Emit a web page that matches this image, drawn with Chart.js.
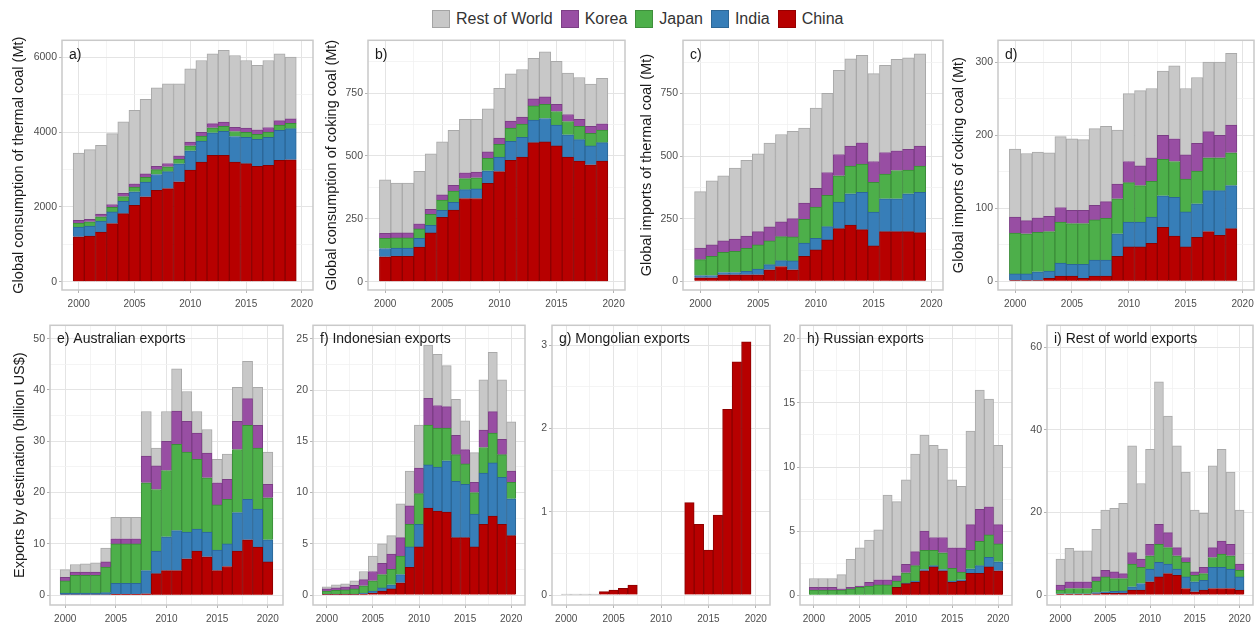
<!DOCTYPE html>
<html>
<head>
<meta charset="utf-8">
<script src="https://cdn.jsdelivr.net/npm/chart.js@4.4.1/dist/chart.umd.min.js"></script>
<style>
  html, body { margin: 0; padding: 0; background: #fff; width: 1256px; height: 622px; overflow: hidden;
    font-family: 'Liberation Sans', Arial, sans-serif; }
  canvas { position: absolute; }
  #legend { position: absolute; left: 432px; top: 10px; display: flex; align-items: center;
    font-size: 16px; color: #333; white-space: nowrap; }
  .key { display: flex; align-items: center; margin-right: 8px; }
  .sw { width: 18px; height: 18px; margin-right: 6px; box-sizing: border-box; border: 1px solid rgba(0,0,0,0.18); }
</style>
</head>
<body>
<div id="legend"></div>
<script>
// ---------- categories ----------
const yearsTop = [2000, 2001, 2002, 2003, 2004, 2005, 2006, 2007, 2008, 2009,
                  2010, 2011, 2012, 2013, 2014, 2015, 2016, 2017, 2018, 2019];
const yearsBottom = [2000, 2001, 2002, 2003, 2004, 2005, 2006, 2007, 2008, 2009, 2010,
                     2011, 2012, 2013, 2014, 2015, 2016, 2017, 2018, 2019, 2020];
const countries = ['China', 'India', 'Japan', 'Korea', 'Rest of World'];
const legendOrder = ['Rest of World', 'Korea', 'Japan', 'India', 'China'];

// ---------- tick labels ----------
const yearTicks = [2000, 2005, 2010, 2015, 2020];
const ticksA = [0, 2000, 4000, 6000];
const ticksB = [0, 250, 500, 750];
const ticksC = [0, 250, 500, 750];
const ticksD = [0, 100, 200, 300];
const ticksE = [0, 10, 20, 30, 40, 50];
const ticksF = [0, 5, 10, 15, 20, 25];
const ticksG = [0, 1, 2, 3];
const ticksH = [0, 5, 10, 15, 20];
const ticksI = [0, 20, 40, 60];

// ---------- a) consumption of thermal coal (Mt) ----------
const aChina = [1200, 1220, 1330, 1555, 1820, 2045, 2270, 2445, 2490, 2670, 2980, 3200, 3380, 3380, 3200, 3155, 3085, 3110, 3245, 3260];
const aIndia = [260, 270, 290, 310, 330, 360, 390, 420, 450, 480, 520, 560, 600, 640, 680, 700, 720, 750, 800, 830];
const aJapan = [110, 110, 115, 120, 125, 125, 130, 130, 130, 120, 130, 130, 135, 135, 135, 135, 135, 140, 140, 140];
const aKorea = [70, 70, 75, 80, 85, 85, 90, 90, 90, 95, 100, 105, 110, 110, 110, 115, 120, 120, 120, 120];
const aRest  = [1800, 1860, 1835, 1890, 1910, 1965, 1990, 2095, 2130, 1925, 1960, 1915, 1865, 1915, 1920, 1805, 1720, 1790, 1785, 1650];

// ---------- b) consumption of coking coal (Mt) ----------
const bChina = [99, 101, 101, 138, 194, 256, 285, 331, 331, 391, 438, 483, 496, 553, 556, 540, 496, 480, 465, 480];
const bIndia = [33, 33, 33, 34, 30, 28, 31, 35, 38, 50, 58, 75, 78, 90, 93, 83, 88, 85, 75, 73];
const bJapan = [40, 40, 40, 38, 44, 41, 44, 44, 44, 50, 50, 53, 53, 56, 56, 54, 53, 53, 50, 50];
const bKorea = [20, 20, 20, 20, 20, 20, 23, 23, 23, 25, 25, 28, 28, 28, 30, 28, 28, 28, 28, 25];
const bRest  = [213, 198, 198, 209, 221, 211, 219, 213, 210, 171, 198, 188, 189, 161, 179, 171, 165, 166, 168, 181];

// ---------- c) imports of thermal coal (Mt) ----------
const cChina = [14, 14, 26, 26, 26, 26, 46, 59, 46, 99, 125, 165, 210, 224, 206, 141, 198, 198, 198, 194];
const cIndia = [9, 9, 9, 9, 14, 23, 20, 23, 35, 53, 46, 53, 106, 125, 149, 135, 131, 131, 151, 161];
const cJapan = [63, 76, 80, 84, 91, 96, 95, 96, 96, 95, 125, 125, 105, 111, 113, 119, 99, 113, 95, 105];
const cKorea = [46, 46, 46, 49, 49, 53, 56, 59, 73, 65, 75, 91, 85, 80, 85, 83, 86, 79, 83, 80];
const cRest  = [226, 256, 260, 284, 303, 311, 335, 349, 349, 300, 320, 316, 336, 348, 349, 351, 348, 365, 365, 368];

// ---------- d) imports of coking coal (Mt) ----------
const dChina = [1, 1, 1, 4, 7, 7, 4, 7, 7, 34, 47, 47, 52, 74, 62, 47, 60, 68, 63, 72];
const dIndia = [9, 9, 12, 10, 18, 16, 19, 22, 22, 31, 34, 34, 36, 43, 53, 48, 46, 56, 61, 59];
const dJapan = [56, 55, 54, 54, 56, 56, 56, 55, 57, 48, 54, 50, 49, 50, 49, 45, 45, 45, 45, 45];
const dKorea = [22, 18, 20, 21, 20, 18, 18, 20, 23, 20, 29, 27, 32, 33, 31, 33, 38, 36, 31, 38];
const dRest  = [93, 92, 90, 87, 97, 98, 97, 105, 103, 74, 93, 103, 95, 88, 100, 91, 90, 95, 100, 98];

// ---------- e) Australian exports (billion US$) ----------
const eChina = [0.1, 0.1, 0.1, 0.1, 0.1, 0.2, 0.2, 0.2, 0.3, 4.2, 4.8, 4.8, 7.1, 8.6, 7.5, 4.8, 5.6, 8.6, 10.8, 9.4, 6.5];
const eIndia = [0.3, 0.3, 0.3, 0.3, 0.4, 2.1, 2.1, 2.1, 4.5, 4.4, 6.6, 7.8, 5.2, 4.3, 4.8, 4.0, 4.4, 7.5, 7.9, 7.4, 4.3];
const eJapan = [2.4, 3.5, 3.5, 3.5, 5.0, 7.7, 7.7, 7.7, 17.1, 12.0, 12.9, 16.8, 15.6, 13.6, 10.6, 8.8, 8.7, 12.3, 14.4, 11.9, 8.2];
const eKorea = [0.7, 0.6, 0.6, 0.6, 1.0, 1.0, 1.0, 1.0, 5.2, 4.6, 5.7, 6.5, 6.0, 5.1, 4.8, 4.3, 3.9, 5.5, 5.2, 4.4, 2.6];
const eRest  = [1.5, 1.5, 1.6, 1.8, 2.7, 4.2, 4.2, 4.2, 8.7, 3.5, 5.8, 8.2, 5.8, 4.2, 4.6, 4.6, 4.9, 6.6, 7.3, 7.4, 6.3];

// ---------- f) Indonesian exports (billion US$) ----------
const fChina = [0.05, 0.05, 0.05, 0.05, 0.1, 0.2, 0.4, 0.6, 1.2, 2.7, 4.7, 8.5, 8.2, 8.1, 5.6, 5.6, 4.7, 6.9, 7.7, 6.9, 5.8];
const fIndia = [0.05, 0.05, 0.05, 0.05, 0.1, 0.2, 0.3, 0.4, 0.8, 2.0, 2.2, 4.2, 4.3, 5.0, 5.5, 5.2, 3.2, 5.0, 5.2, 4.6, 3.6];
const fJapan = [0.3, 0.35, 0.4, 0.5, 0.7, 1.0, 1.3, 1.5, 1.8, 2.2, 3.0, 3.9, 3.8, 3.2, 2.6, 2.0, 2.1, 2.5, 2.9, 2.2, 1.6];
const fKorea = [0.2, 0.25, 0.3, 0.35, 0.6, 0.9, 1.1, 1.5, 1.8, 1.8, 2.5, 2.6, 2.2, 2.1, 1.9, 1.4, 1.0, 1.7, 2.1, 1.5, 1.1];
const fRest  = [0.2, 0.3, 0.3, 0.45, 0.8, 1.5, 1.9, 1.8, 3.3, 3.4, 4.2, 5.2, 5.0, 4.0, 3.5, 2.8, 2.9, 4.9, 5.8, 5.8, 4.8];

// ---------- g) Mongolian exports (billion US$) ----------
const gChina = [null, null, null, null, 0.04, 0.06, 0.08, 0.12, null, null, null, null, null, 1.11, 0.85, 0.54, 0.96, 2.23, 2.80, 3.04, null];
const gIndia = [null, null, null, null, null, null, null, null, null, null, null, null, null, null, null, null, null, null, null, null, null];
const gJapan = [null, null, null, null, null, null, null, null, null, null, null, null, null, null, null, null, null, null, null, null, null];
const gKorea = [null, null, null, null, null, null, null, null, null, null, null, null, null, null, null, null, null, null, null, null, null];
const gRest  = [0.01, 0.01, 0.01, 0.01, null, null, null, null, null, null, null, null, null, null, null, null, null, null, null, null, null];

// ---------- h) Russian exports (billion US$) ----------
const hChina = [0, 0, 0, 0, 0, 0, 0, 0, 0, 0.6, 0.9, 1.0, 1.9, 2.2, 1.9, 1.0, 1.1, 1.7, 1.7, 2.2, 1.9];
const hIndia = [0, 0, 0, 0, 0, 0, 0, 0, 0, 0, 0.05, 0.1, 0.1, 0.1, 0.1, 0.1, 0.1, 0.35, 0.6, 0.75, 0.7];
const hJapan = [0.4, 0.4, 0.4, 0.4, 0.5, 0.6, 0.7, 0.8, 0.8, 0.5, 0.8, 1.2, 1.5, 1.2, 1.3, 1.0, 0.6, 1.45, 1.9, 1.75, 1.4];
const hKorea = [0.2, 0.2, 0.2, 0.1, 0.1, 0.1, 0.3, 0.4, 0.4, 0.4, 0.65, 1.1, 1.5, 1.0, 1.2, 1.6, 1.9, 2.0, 2.5, 2.2, 1.5];
const hRest  = [0.7, 0.7, 0.7, 1.1, 2.2, 3.0, 3.3, 3.9, 6.6, 5.8, 6.6, 7.6, 7.5, 7.2, 6.9, 5.3, 4.8, 7.3, 9.3, 8.4, 6.2];

// ---------- i) Rest of world exports (billion US$) ----------
const iChina = [0.2, 0.2, 0.2, 0.2, 0.3, 0.4, 0.4, 0.5, 1.2, 1.2, 3.2, 4.4, 5.2, 4.8, 1.6, 0.8, 1.2, 1.6, 1.6, 1.6, 1.2];
const iIndia = [0.1, 0.1, 0.1, 0.1, 0.3, 0.4, 0.5, 0.5, 0.8, 1.6, 3.1, 3.5, 2.3, 1.5, 2.8, 2.4, 2.4, 5.1, 5.1, 4.7, 3.2];
const iJapan = [0.9, 1.3, 1.3, 1.3, 2.8, 3.6, 3.1, 3.0, 5.5, 3.9, 3.2, 4.4, 4.0, 3.2, 3.5, 1.6, 1.6, 2.4, 3.2, 3.2, 1.6];
const iKorea = [1.2, 1.6, 1.6, 1.6, 1.0, 1.6, 1.6, 1.2, 2.8, 2.0, 2.8, 4.8, 3.6, 2.0, 1.2, 0.8, 1.5, 2.4, 3.2, 2.8, 1.5];
const iRest  = [6.3, 8.1, 7.5, 7.5, 11.5, 14.6, 15.4, 17.0, 25.8, 18.3, 23.0, 34.5, 28.2, 24.6, 20.7, 15.0, 13.1, 19.8, 22.2, 17.5, 13.1];

// ---------- styling ----------
const fills = { 'China': '#b70000', 'India': '#377eb8', 'Japan': '#4daf4a', 'Korea': '#984ea3', 'Rest of World': '#c8c8c8' };
const edges = { 'China': '#8c0000', 'India': '#2b6797', 'Japan': '#3b8d39', 'Korea': '#7b3d85', 'Rest of World': '#a9a9a9' };
const FONT = "'Liberation Sans', Arial, sans-serif";

// Legend
const legend = document.getElementById('legend');
legendOrder.forEach(name => {
  const k = document.createElement('div'); k.className = 'key';
  const sw = document.createElement('div'); sw.className = 'sw'; sw.style.background = fills[name];
  const tx = document.createElement('span'); tx.textContent = name;
  k.appendChild(sw); k.appendChild(tx); legend.appendChild(k);
});

// Frame and corner label of each panel
const panelDecor = {
  id: 'panelDecor',
  afterDatasetsDraw(chart, args, o) {
    const { ctx, chartArea: a } = chart;
    ctx.save();
    ctx.strokeStyle = '#c9c9c9';
    ctx.lineWidth = 1.5;
    ctx.strokeRect(a.left, a.top, a.right - a.left, a.bottom - a.top);
    ctx.fillStyle = '#1a1a1a';
    ctx.font = '14px ' + FONT;
    ctx.textAlign = 'left';
    ctx.textBaseline = 'middle';
    ctx.fillText(o.text, a.left + 7, a.top + o.dy);
    ctx.restore();
  }
};

// Major ticks carry labels; minor ones sit half-way between them
function tickList(majors, lo, hi) {
  const step = majors[1] - majors[0];
  const out = [];
  for (let k = 0; k < majors.length; k++) {
    out.push({ value: majors[k], major: true });
    const m = majors[k] + step / 2;
    if (m > lo && m < hi) out.push({ value: m, major: false });
  }
  const first = majors[0] - step / 2;
  if (first > lo) out.unshift({ value: first, major: false });
  return out;
}

const panels = [
  { label: 'a)', dy: 15, title: 'Global consumption of thermal coal (Mt)', titleX: 19, years: yearsTop,
    series: [aChina, aIndia, aJapan, aKorea, aRest], yTicks: ticksA, yRange: [-220, 6450], xRange: [1998.5, 2021], box: [62, 38, 313, 290] },
  { label: 'b)', dy: 15, title: 'Global consumption of coking coal (Mt)', titleX: 332, years: yearsTop,
    series: [bChina, bIndia, bJapan, bKorea, bRest], yTicks: ticksB, yRange: [-33, 960], xRange: [1998.5, 2021], box: [368, 38, 625, 290] },
  { label: 'c)', dy: 15, title: 'Global imports of thermal coal (Mt)', titleX: 647, years: yearsTop,
    series: [cChina, cIndia, cJapan, cKorea, cRest], yTicks: ticksC, yRange: [-35, 962], xRange: [1998.5, 2021], box: [683, 38, 943, 290] },
  { label: 'd)', dy: 15, title: 'Global imports of coking coal (Mt)', titleX: 959, years: yearsTop,
    series: [dChina, dIndia, dJapan, dKorea, dRest], yTicks: ticksD, yRange: [-12, 330], xRange: [1998.5, 2021], box: [998, 38, 1254, 290] },
  { label: 'e) Australian exports', dy: 14, title: 'Exports by destination (billion US$)', titleX: 20, years: yearsBottom,
    series: [eChina, eIndia, eJapan, eKorea, eRest], yTicks: ticksE, yRange: [-1.9, 52.6], xRange: [1998.5, 2021.5], box: [50, 323, 283, 605] },
  { label: 'f) Indonesian exports', dy: 14, title: null, years: yearsBottom,
    series: [fChina, fIndia, fJapan, fKorea, fRest], yTicks: ticksF, yRange: [-0.97, 26.33], xRange: [1998.5, 2021.5], box: [313, 323, 525, 605] },
  { label: 'g) Mongolian exports', dy: 14, title: null, years: yearsBottom,
    series: [gChina, gIndia, gJapan, gKorea, gRest], yTicks: ticksG, yRange: [-0.12, 3.24], xRange: [1998.5, 2021.5], box: [552, 323, 770, 605] },
  { label: 'h) Russian exports', dy: 14, title: null, years: yearsBottom,
    series: [hChina, hIndia, hJapan, hKorea, hRest], yTicks: ticksH, yRange: [-0.77, 21.06], xRange: [1998.5, 2021.5], box: [800, 323, 1012, 605] },
  { label: 'i) Rest of world exports', dy: 14, title: null, years: yearsBottom,
    series: [iChina, iIndia, iJapan, iKorea, iRest], yTicks: ticksI, yRange: [-2.4, 65.3], xRange: [1998.5, 2021.5], box: [1047, 323, 1253, 605] }
];

const gridColour = c => (c.tick && c.tick.major) ? '#e4e4e4' : '#f1f1f1';
const gridWidth = c => (c.tick && c.tick.major) ? 1 : 0.8;
const tickMark = c => (c.tick && c.tick.major) ? '#b3b3b3' : 'rgba(0,0,0,0)';
const majorLabel = (v, i, ts) => (ts[i] && ts[i].major) ? String(v) : '';

function makePanel(p) {
  const [l, t, r, b] = p.box;
  const padTop = 6, padRight = 14, xAxisH = 24;
  const left = p.title ? Math.round(p.titleX - 10.7) : l - 30;
  const top = t - padTop;
  const width = r + padRight - left;
  const height = b + xAxisH - top;
  const canvas = document.createElement('canvas');
  canvas.width = width; canvas.height = height;
  canvas.style.left = left + 'px'; canvas.style.top = top + 'px';
  canvas.style.width = width + 'px'; canvas.style.height = height + 'px';
  document.body.appendChild(canvas);

  const xTicks = tickList(yearTicks, p.xRange[0], p.xRange[1]);
  const yTicks = tickList(p.yTicks, p.yRange[0], p.yRange[1]);

  new Chart(canvas, {
    type: 'bar',
    data: {
      datasets: countries.map((name, k) => ({
        label: name,
        data: p.years.map((yr, i) => ({ x: yr, y: p.series[k][i] })),
        backgroundColor: fills[name],
        borderColor: edges[name],
        borderWidth: 1,
        barPercentage: 1,
        categoryPercentage: 1
      }))
    },
    options: {
      responsive: false,
      animation: false,
      devicePixelRatio: 1,
      layout: { padding: { top: padTop, right: padRight, left: 0, bottom: 0 } },
      plugins: {
        legend: { display: false },
        tooltip: { enabled: false },
        panelDecor: { text: p.label, dy: p.dy }
      },
      scales: {
        x: {
          type: 'linear', stacked: true, offset: false, bounds: 'data',
          min: p.xRange[0], max: p.xRange[1],
          afterBuildTicks: ax => { ax.ticks = xTicks.map(o => ({ ...o })); },
          afterFit: ax => { ax.height = xAxisH; },
          ticks: { autoSkip: false, maxRotation: 0, minRotation: 0, padding: 5,
                   font: { family: FONT, size: 10 }, color: '#4d4d4d', callback: majorLabel },
          grid: { offset: false, color: gridColour, lineWidth: gridWidth, tickLength: 3, tickColor: tickMark, tickWidth: 1 },
          border: { display: false }
        },
        y: {
          type: 'linear', stacked: true, bounds: 'data',
          min: p.yRange[0], max: p.yRange[1],
          afterBuildTicks: ax => { ax.ticks = yTicks.map(o => ({ ...o })); },
          afterFit: ax => { ax.width = l - left; },
          ticks: { autoSkip: false, padding: 2, font: { family: FONT, size: 10.5 }, color: '#4d4d4d', callback: majorLabel },
          grid: { color: gridColour, lineWidth: gridWidth, tickLength: 3, tickColor: tickMark, tickWidth: 1 },
          border: { display: false },
          title: p.title ? { display: true, text: p.title, color: '#1a1a1a',
                             font: { family: FONT, size: 14.5 }, padding: { top: 2, bottom: 0 } } : { display: false }
        }
      }
    },
    plugins: [panelDecor]
  });
}

panels.forEach(makePanel);
</script>
</body>
</html>
